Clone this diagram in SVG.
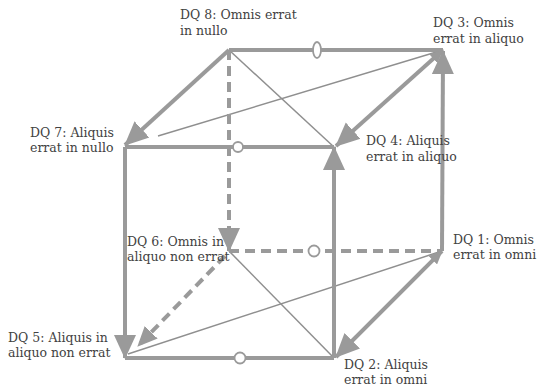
<svg xmlns="http://www.w3.org/2000/svg" width="538" height="386" viewBox="0 0 538 386">
<style>
.thick{stroke:#9a9a9a;stroke-width:4;fill:none}
.dash{stroke:#9a9a9a;stroke-width:4;fill:none;stroke-dasharray:10 6}
.thin{stroke:#8f8f8f;stroke-width:1.5;fill:none}
.knot{fill:#fff;stroke:#9a9a9a;stroke-width:1.8}
text{font-family:"DejaVu Serif","Liberation Serif",serif;font-size:12.5px;fill:#424242}
</style>
<defs>
<marker id="big" markerUnits="userSpaceOnUse" markerWidth="24" markerHeight="24" viewBox="0 0 24 24" refX="23" refY="12" orient="auto">
<path d="M0,1 L24,12 L0,23 Z" fill="#9a9a9a"/>
</marker>
<marker id="mid" markerUnits="userSpaceOnUse" markerWidth="20" markerHeight="18" viewBox="0 0 20 18" refX="19" refY="9" orient="auto">
<path d="M0,0 L20,9 L0,18 Z" fill="#9a9a9a"/>
</marker>
<marker id="small" markerUnits="userSpaceOnUse" markerWidth="14" markerHeight="12" viewBox="0 0 14 12" refX="13" refY="6" orient="auto-start-reverse">
<path d="M0,0 L14,6 L0,12 Z" fill="#9a9a9a"/>
</marker>
</defs>
<rect width="538" height="386" fill="#fff"/>
<g id="connectors">
<line class="thin" x1="229" y1="50" x2="334" y2="147"/>
<line class="thin" x1="443" y1="50" x2="158" y2="136"/>
<line class="thin" x1="229" y1="251" x2="334" y2="358"/>
<line class="thin" x1="128" y1="354" x2="442" y2="251"/>
<line class="thick" x1="229" y1="50" x2="443" y2="50"/>
<line class="thick" x1="125" y1="147" x2="334" y2="147"/>
<line class="thick" x1="125" y1="358" x2="334" y2="358"/>
<line class="dash" x1="229" y1="251" x2="442" y2="251"/>
<line class="dash" x1="229" y1="50" x2="229" y2="251" marker-end="url(#big)"/>
<line class="dash" x1="225" y1="256" x2="138" y2="346" marker-end="url(#mid)"/>
<line class="thick" x1="125" y1="147" x2="125" y2="358" marker-end="url(#big)"/>
<line class="thick" x1="334" y1="358" x2="334" y2="147" marker-end="url(#big)"/>
<line class="thick" x1="442" y1="251" x2="443" y2="51" marker-end="url(#big)"/>
<line class="thick" x1="229" y1="50" x2="125" y2="145" marker-end="url(#big)"/>
<line class="thick" x1="443" y1="50" x2="336" y2="146" marker-start="url(#small)" marker-end="url(#big)"/>
<line class="thick" x1="442" y1="251" x2="336" y2="357" marker-start="url(#small)" marker-end="url(#big)"/>
<ellipse class="knot" cx="317" cy="50" rx="4" ry="8"/>
<circle class="knot" cx="238" cy="147" r="5"/>
<circle class="knot" cx="314" cy="251" r="5.5"/>
<circle class="knot" cx="240" cy="358" r="5.5"/>
</g>
<g id="dq8"><text x="180" y="19">DQ 8: Omnis errat</text><text x="180" y="35">in nullo</text></g>
<g id="dq3"><text x="433" y="27">DQ 3: Omnis</text><text x="433" y="43">errat in aliquo</text></g>
<g id="dq4"><text x="366" y="145">DQ 4: Aliquis</text><text x="366" y="161">errat in aliquo</text></g>
<g id="dq7"><text x="30" y="137">DQ 7: Aliquis</text><text x="30" y="152">errat in nullo</text></g>
<g id="dq6"><text x="127" y="246">DQ 6: Omnis in</text><text x="127" y="261">aliquo non errat</text></g>
<g id="dq5"><text x="8" y="342">DQ 5: Aliquis in</text><text x="8" y="357">aliquo non errat</text></g>
<g id="dq1"><text x="453" y="244">DQ 1: Omnis</text><text x="453" y="259">errat in omni</text></g>
<g id="dq2"><text x="344" y="369">DQ 2: Aliquis</text><text x="344" y="384">errat in omni</text></g>
</svg>
